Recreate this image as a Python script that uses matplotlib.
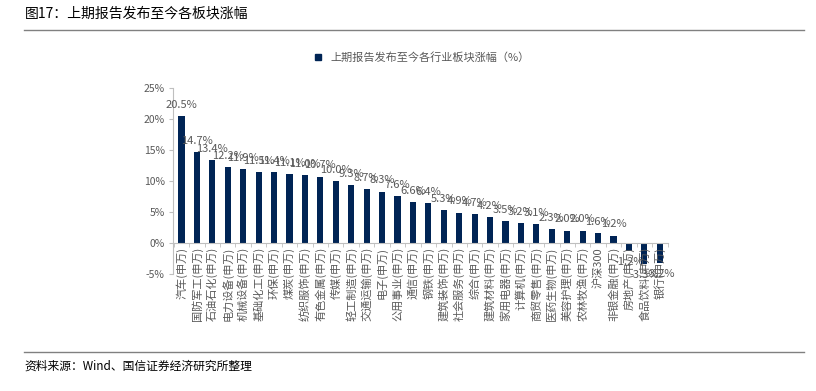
import numpy as np
import matplotlib
matplotlib.use("Agg")
import matplotlib.pyplot as plt
from matplotlib.lines import Line2D

plt.rcParams['font.family'] = ['Noto Sans CJK SC', 'DejaVu Sans']

# --- data ---
sectors = ["汽车", "国防军工", "石油石化", "电力设备", "机械设备", "基础化工", "环保", "煤炭",
           "纺织服饰", "有色金属", "传媒", "轻工制造", "交通运输", "电子", "公用事业", "通信",
           "钢铁", "建筑装饰", "社会服务", "综合", "建筑材料", "家用电器", "计算机", "商贸零售",
           "医药生物", "美容护理", "农林牧渔", "沪深300", "非银金融", "房地产", "食品饮料", "银行"]
changes = [20.5, 14.7, 13.4, 12.2, 11.9, 11.5, 11.4, 11.1, 11.0, 10.7, 10.0, 9.3, 8.7, 8.3, 7.6, 6.6,
           6.4, 5.3, 4.9, 4.7, 4.2, 3.5, 3.2, 3.1, 2.3, 2.0, 2.0, 1.6, 1.2, -1.2, -3.3, -3.2]
labels = [s if s == "沪深300" else s + "(申万)" for s in sectors]
yticks = [-5, 0, 5, 10, 15, 20, 25]

navy = "#002455"
grey = "#595959"

fig = plt.figure(figsize=(8.16, 3.91), dpi=100)
ax = fig.add_axes([0.212, 0.299, 0.607, 0.476])

# spine position first (it resets tick settings)
ax.spines["bottom"].set_position(("data", 0))
ax.spines["bottom"].set_color("#bfbfbf")
ax.spines["left"].set_color("#bfbfbf")
ax.spines["top"].set_visible(False)
ax.spines["right"].set_visible(False)

x = np.arange(len(changes))
ax.bar(x, changes, width=0.4, color=navy)

for xi, v in zip(x, changes):
    if v >= 0:
        ax.text(xi, v + 1.0, f"{v:.1f}%", ha="center", va="bottom", fontsize=8, color=grey)
    else:
        ax.text(xi, v - 1.0, f"{v:.1f}%", ha="center", va="top", fontsize=8, color=grey)

ax.set_xlim(-0.55, len(changes) - 0.45)
ax.set_ylim(-5, 25)
ax.set_yticks(yticks)
ax.set_yticklabels([f"{t}%" for t in yticks], fontsize=7.5, color=grey)

ax.set_xticks(x)
ax.set_xticklabels(labels, rotation=90, fontsize=8, color=grey)
ax.tick_params(axis="x", which="major", length=0, pad=3)
ax.set_xticks(np.arange(-0.5, len(changes), 1), minor=True)
ax.tick_params(axis="x", which="minor", length=3, color="#bfbfbf", direction="out")
ax.tick_params(axis="y", length=3, color="#bfbfbf", pad=3)

# legend
handle = Line2D([], [], marker="s", linestyle="none", color=navy, markersize=4)
fig.legend([handle], ["上期报告发布至今各行业板块涨幅（%）"], loc="center", bbox_to_anchor=(0.513, 0.852),
           frameon=False, fontsize=8, labelcolor=grey, handletextpad=0.1)

# header / footer
fig.text(0.03, 0.965, "图17：上期报告发布至今各板块涨幅", fontsize=10, color="black", va="center")
fig.add_artist(Line2D([0.03, 0.985], [0.923, 0.923], color="#808080", lw=1))
fig.add_artist(Line2D([0.03, 0.985], [0.1, 0.1], color="#808080", lw=1))
fig.text(0.03, 0.063, "资料来源：Wind、国信证券经济研究所整理", fontsize=8.5, color="black", va="center")

fig.savefig("out.png", dpi=100)
